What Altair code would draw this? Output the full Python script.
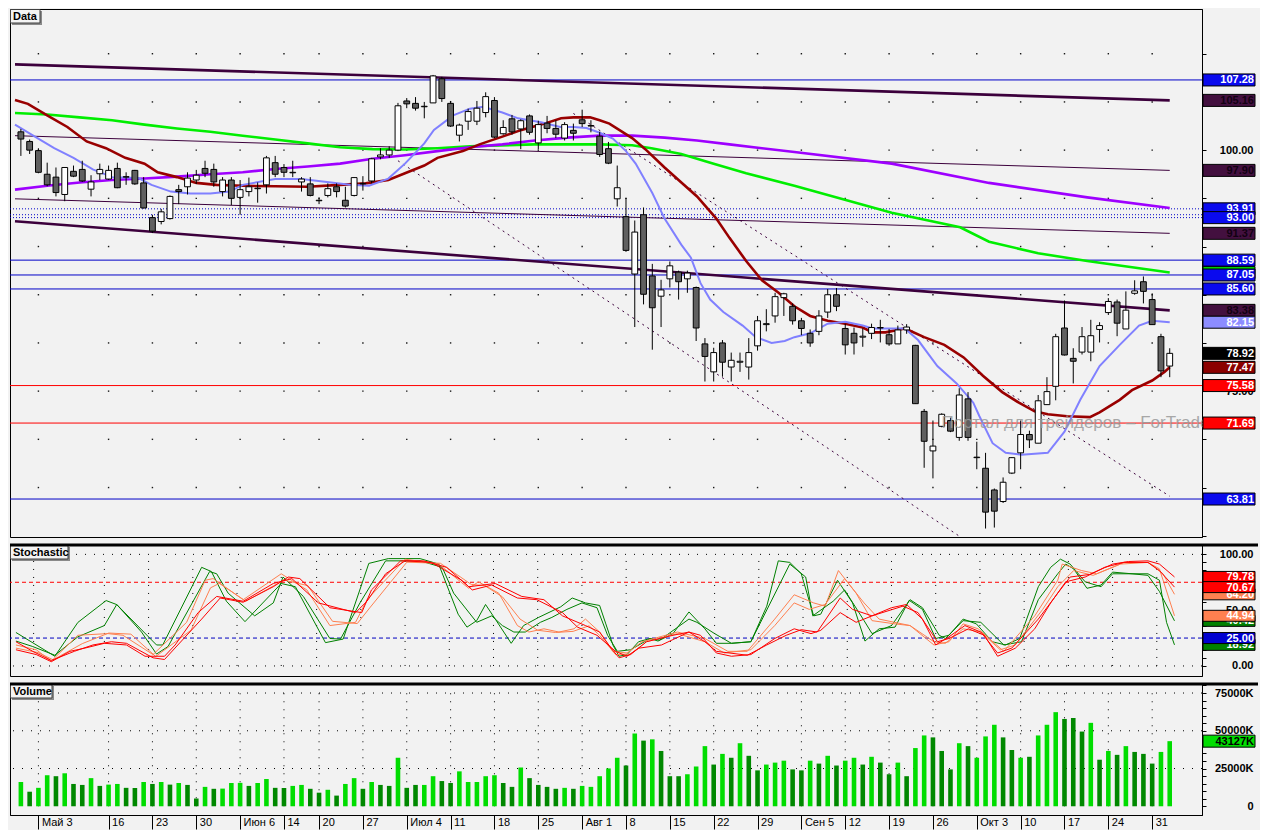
import altair as alt
import pandas as pd

# ---------------- values ----------------
DATE_TICKS = [2, 10, 15, 20, 25, 30, 34, 39, 44, 49, 54, 59, 64, 69, 74, 79, 84, 89, 94, 99,
              104, 109, 114, 119, 124, 129]
DATE_LABELS = ["Май 3", "16", "23", "30", "Июн 6", "14", "20", "27", "Июл 4", "11", "18", "25",
               "Авг 1", "8", "15", "22", "29", "Сен 5", "12", "19", "26", "Окт 3", "10", "17", "24", "31"]

OPEN = [101.9, 100.9, 99.95, 97.5, 97.2, 95.4, 97.8, 98.0, 95.95, 97.55,
        97.0, 98.1, 97.2, 97.9, 96.6, 93.0, 92.6, 92.9, 95.9, 96.2,
        96.9, 98.1, 98.0, 95.7, 96.9, 95.1, 95.7, 96.0, 96.4, 98.7,
        98.2, 97.65, 96.7, 96.5, 94.75, 95.3, 96.2, 94.8, 95.3, 96.5,
        96.8, 99.3, 99.5, 100.0, 105.1, 104.85, 104.5, 104.9, 107.4, 104.85,
        101.55, 103.0, 103.0, 103.9, 105.15, 101.7, 103.25, 102.2, 103.55, 100.75,
        102.8, 102.25, 101.25, 102.05, 103.15, 102.5, 101.45, 100.15, 94.95, 93.1,
        87.15, 93.3, 86.95, 84.85, 86.65, 87.35, 86.65, 85.75, 79.9, 77.0,
        80.0, 77.5, 78.0, 77.5, 79.7, 81.9, 82.8, 84.7, 83.8, 82.3,
        81.0, 81.2, 83.2, 85.0, 81.5, 81.0, 80.6, 81.0, 81.55, 80.85,
        79.9, 81.35, 79.75, 72.9, 68.8, 71.35, 71.95, 70.2, 74.2, 68.1,
        67.0, 64.75, 63.55, 66.5, 68.6, 70.5, 69.6, 73.6, 75.5, 81.55,
        78.4, 79.05, 79.05, 81.4, 83.15, 84.25, 81.45, 85.15, 86.35, 84.5,
        80.65, 77.6]
HIGH = [102.2, 101.1, 100.2, 98.7, 98.2, 98.25, 98.4, 98.9, 97.4, 98.6,
        98.4, 98.7, 97.7, 97.95, 97.2, 93.3, 93.9, 95.3, 96.4, 97.7,
        97.95, 98.9, 98.6, 97.2, 97.2, 96.9, 97.15, 96.65, 99.4, 99.4,
        98.55, 98.9, 97.2, 97.2, 95.1, 96.55, 96.55, 96.2, 97.2, 97.3,
        99.2, 100.2, 100.4, 104.9, 105.4, 105.5, 105.0, 107.8, 107.6, 105.1,
        102.75, 104.3, 105.1, 106.0, 105.5, 103.1, 103.65, 103.2, 103.7, 103.05,
        103.55, 103.1, 102.9, 102.75, 104.2, 103.1, 101.9, 100.85, 98.4, 95.05,
        92.7, 94.05, 88.2, 86.55, 88.45, 87.5, 87.5, 85.85, 80.5, 79.5,
        80.3, 79.0, 79.0, 80.5, 82.8, 83.5, 85.2, 85.2, 84.1, 82.6,
        81.4, 83.4, 85.6, 85.7, 82.0, 81.6, 81.5, 82.0, 82.4, 81.45,
        81.8, 81.95, 79.8, 73.15, 71.95, 72.7, 72.25, 75.3, 74.9, 69.75,
        68.6, 64.9, 66.05, 68.15, 71.95, 70.9, 74.6, 76.45, 80.95, 84.4,
        79.45, 81.65, 82.4, 82.15, 84.65, 84.5, 85.35, 86.5, 86.9, 85.15,
        80.95, 79.45]
LOW = [99.4, 99.6, 97.6, 96.25, 95.2, 94.7, 97.2, 96.7, 95.2, 96.9,
       96.9, 96.05, 96.4, 96.4, 93.95, 91.4, 92.3, 92.8, 94.4, 95.4,
       96.5, 97.2, 96.2, 95.2, 94.3, 93.3, 95.2, 94.55, 95.5, 97.2,
       97.2, 97.2, 95.7, 95.2, 94.4, 95.1, 95.1, 94.05, 95.2, 95.8,
       96.55, 99.05, 99.2, 99.9, 104.35, 104.1, 103.3, 104.9, 105.0, 102.4,
       100.9, 102.1, 102.6, 103.4, 101.25, 101.6, 101.6, 100.1, 101.6, 100.1,
       101.75, 101.25, 101.0, 101.0, 102.4, 101.85, 99.3, 98.55, 94.15, 89.45,
       81.65, 84.0, 79.3, 81.65, 85.75, 84.5, 85.2, 80.2, 76.0, 76.0,
       76.5, 76.0, 77.0, 76.2, 79.2, 81.2, 82.1, 82.8, 81.9, 80.8,
       79.6, 80.8, 82.6, 83.3, 78.8, 78.8, 79.6, 80.4, 80.05, 79.7,
       79.9, 80.95, 73.7, 67.05, 65.95, 71.25, 70.75, 69.85, 69.85, 66.9,
       60.75, 60.85, 63.4, 66.4, 66.9, 69.1, 69.6, 73.6, 74.05, 78.7,
       75.8, 78.8, 78.1, 80.05, 82.9, 80.7, 81.45, 85.0, 84.1, 81.9,
       76.45, 76.45]
CLOSE = [101.15, 100.0, 97.7, 96.4, 95.6, 98.2, 97.3, 96.8, 96.7, 98.0,
         97.9, 96.1, 97.25, 96.5, 94.0, 91.6, 93.6, 95.2, 95.7, 97.1,
         97.4, 97.6, 96.7, 96.9, 95.0, 95.9, 96.2, 96.05, 99.2, 97.5,
         97.7, 97.7, 97.0, 95.3, 94.8, 96.0, 95.7, 94.2, 97.15, 96.55,
         99.1, 99.5, 100.0, 104.6, 104.8, 104.35, 104.55, 107.7, 105.35, 102.5,
         102.6, 104.0, 104.35, 105.55, 101.35, 102.35, 101.9, 103.05, 101.85, 102.65,
         102.25, 101.65, 102.65, 101.75, 102.75, 102.55, 99.55, 98.65, 96.1, 89.6,
         91.5, 85.05, 83.65, 85.5, 88.0, 86.35, 87.25, 81.55, 78.6, 79.0,
         78.0, 78.2, 78.1, 79.0, 82.3, 82.0, 84.8, 85.1, 82.3, 81.5,
         80.0, 82.8, 85.0, 83.8, 79.8, 80.0, 80.7, 81.6, 81.6, 79.9,
         81.35, 81.65, 73.7, 69.8, 69.3, 72.6, 70.85, 74.6, 70.2, 68.15,
         62.45, 62.55, 65.55, 68.1, 70.5, 69.95, 74.0, 74.95, 80.65, 78.75,
         78.1, 80.65, 80.75, 81.8, 84.3, 82.05, 83.4, 85.4, 85.35, 81.9,
         77.1, 78.92]

VOLUME_K = [16070, 9640, 12210, 20560, 19920, 21850, 14780, 14140, 18640, 13490,
            14350, 14780, 12210, 12100, 16070, 14780, 16070, 14350, 15420, 14140,
            5140, 12850, 11570, 11700, 15420, 15500, 13490, 15420, 17990, 12210,
            12100, 13490, 14140, 11570, 9000, 10920, 7070, 14780, 18640, 11570,
            16070, 14140, 13490, 32130, 12210, 14140, 14140, 19920, 16710, 15420,
            23130, 16070, 16070, 19920, 20560, 15420, 12850, 25700, 18640, 14140,
            12850, 11570, 12210, 11570, 13490, 12850, 19920, 25060, 32130, 26990,
            48200, 43480, 44340, 36630, 19920, 19920, 21210, 26350, 39840, 27630,
            34700, 32130, 41770, 33420, 23780, 27630, 28920, 30200, 24420, 23780,
            30200, 28270, 33420, 26990, 30200, 32130, 27630, 32770, 28920, 21210,
            28920, 19920, 38560, 46910, 45620, 36630, 24420, 41770, 39840, 32130,
            46270, 53980, 45620, 37270, 32130, 32770, 46910, 53980, 62330, 57830,
            58480, 49480, 55260, 30840, 36630, 34060, 39840, 35990, 34700, 28270,
            35990, 43127]
# 1 = volume bar drawn in the light ("rising") green, 0 = dark green
VOLUME_RISING = [1, 0, 1, 1, 0, 1, 0, 0, 1, 0,
                 1, 1, 0, 0, 1, 0, 1, 0, 1, 0,
                 0, 1, 0, 1, 1, 1, 0, 1, 1, 0,
                 0, 1, 1, 0, 0, 1, 0, 1, 1, 0,
                 1, 0, 0, 1, 0, 0, 1, 1, 0, 0,
                 1, 1, 1, 1, 1, 0, 0, 1, 0, 0,
                 0, 0, 1, 0, 1, 1, 1, 1, 1, 0,
                 1, 0, 1, 0, 0, 0, 1, 1, 1, 0,
                 1, 0, 1, 0, 0, 1, 1, 1, 0, 0,
                 1, 0, 1, 0, 1, 1, 0, 1, 0, 0,
                 1, 0, 1, 1, 0, 0, 0, 1, 0, 1,
                 1, 1, 0, 0, 1, 0, 1, 1, 1, 0,
                 0, 0, 1, 0, 1, 0, 1, 0, 0, 0,
                 1, 1]

# moving averages: (bar index, price)
MA_FAST = [(-0.67, 102.65), (1.6, 101.4), (3.8, 100.2), (6.0, 99.2), (8.2, 98.0), (10.4, 97.2), (13.4, 97.1),
           (14.9, 96.4), (17.1, 95.7), (19.3, 95.5), (21.6, 95.5), (23.8, 95.7), (25.3, 96.4), (29.0, 97.0),
           (32.0, 97.0), (34.9, 96.7), (37.5, 96.4), (39.7, 96.3), (41.9, 97.05), (43.8, 98.6), (46.0, 100.7),
           (47.1, 102.1), (49.3, 103.6), (51.2, 104.3), (52.7, 104.5), (54.9, 103.9), (56.7, 103.3), (59.3, 102.9),
           (61.5, 102.4), (63.0, 102.4), (64.5, 102.3), (66.0, 101.8), (67.5, 101.2), (69.0, 99.9), (70.1, 98.6),
           (72.0, 95.55), (73.4, 92.9), (75.3, 90.2), (76.4, 88.85), (77.5, 86.2), (78.6, 84.5), (80.1, 83.2),
           (82.3, 81.8), (83.8, 80.6), (85.6, 80.0), (87.1, 80.2), (88.2, 80.6), (90, 81.0), (92, 82.0), (94, 82.2),
           (96, 81.8), (97.1, 81.5), (100.8, 81.5), (102.3, 80.3), (104.5, 77.6), (106.7, 75.8), (108.6, 73.8),
           (109.3, 72.4), (110.8, 69.6), (112.3, 68.6), (114.1, 68.4), (117.1, 68.6), (119.0, 70.8), (120.8, 74.1),
           (123.0, 77.6), (125.3, 79.8), (127.5, 81.8), (129.0, 82.3), (131.0, 82.15)]
MA_MID = [(-0.67, 105.2), (0.8, 104.8), (3.0, 103.6), (5.3, 102.4), (7.5, 100.9), (9.7, 100.2), (11.9, 99.2),
          (14.1, 98.6), (15.6, 97.7), (17.8, 97.2), (20.0, 96.6), (22.3, 96.4), (25.3, 96.3), (29.0, 96.25),
          (32.7, 96.2), (36.4, 96.4), (39.3, 96.55), (41.9, 96.9), (43.8, 97.6), (46.0, 98.4), (47.5, 99.2),
          (50.4, 99.9), (52.3, 100.6), (54.9, 101.4), (57.1, 102.1), (59.7, 102.75), (61.6, 103.3), (63.0, 103.4),
          (64.9, 103.4), (66.0, 103.1), (67.1, 102.75), (69.7, 101.25), (71.2, 100.1), (73.4, 98.2), (75.6, 96.4),
          (77.1, 95.2), (79.3, 92.9), (80.8, 90.9), (82.7, 88.5), (84.5, 86.5), (86.4, 85.2), (88.2, 83.8),
          (90, 82.8), (92, 82.3), (94, 82.0), (96, 81.6), (97.1, 81.1), (98.6, 81.1), (100.8, 81.5), (103.0, 80.6),
          (105.3, 79.8), (107.5, 78.5), (109.7, 76.6), (111.9, 74.9), (113.8, 73.8), (115.6, 72.9), (117.1, 72.6),
          (119.3, 72.4), (121.9, 72.3), (123.0, 72.8), (125.3, 74.1), (126.7, 75.1), (129.0, 76.1), (130.4, 77.0),
          (131.0, 77.47)]
MA_LONG = [(-0.67, 103.85), (3, 103.7), (6.7, 103.4), (10.4, 103.1), (14.1, 102.65), (17.8, 102.25), (21.6, 101.9),
           (25.3, 101.5), (29, 101.1), (32.7, 100.7), (36.4, 100.3), (40.1, 100.1), (43.8, 100.07), (47.5, 100.2),
           (51.2, 100.4), (58.6, 100.6), (66, 100.6), (69.7, 100.5), (71.9, 100.2), (75.3, 99.6), (79, 98.6),
           (82.7, 97.6), (88.2, 96.3), (99.3, 93.5), (107.1, 92.0), (110.4, 90.5), (116, 89.3), (121.6, 88.5),
           (131, 87.3)]
MA_SLOW = [(-0.67, 95.9), (3, 96.3), (6.7, 96.65), (10.4, 96.9), (14.1, 97.05), (17.8, 97.25), (21.6, 97.5),
           (25.3, 97.7), (29, 98.05), (32.7, 98.3), (36.4, 98.6), (40.1, 99.1), (43.8, 99.47), (47.5, 99.9),
           (51.2, 100.3), (54.9, 100.6), (58.6, 101.0), (62.3, 101.3), (66, 101.5), (69.7, 101.5), (73.4, 101.3),
           (77.1, 101.0), (80.8, 100.6), (84.5, 100.2), (88.2, 99.8), (99.3, 98.6), (110.4, 96.6), (121.6, 95.1),
           (131, 94.0)]

# trend lines: (start bar, start price, end bar, end price)
TREND_THICK = [(-0.67, 108.9, 131, 105.16), (-0.67, 92.63, 131, 83.38)]
TREND_THIN = [(-0.67, 101.5, 131, 97.90), (-0.67, 94.95, 131, 91.37)]
TREND_DOTTED = [(43, 98.9, 107.1, 59.9), (63, 103.8, 131, 64.1)]

LEVELS_BLUE = [107.28, 88.59, 87.05, 85.60, 63.81]
LEVELS_BLUE_DOTTED = [93.91, 93.30, 93.00]
LEVELS_RED = [75.58, 71.69]

PRICE_TAGS_BACK = [93.91, 87.30]
PRICE_TAGS_BACK_TEXT = ["93.91", ""]
PRICE_TAGS = [107.28, 105.16, 97.90, 93.00, 91.37, 88.59, 87.05, 85.60, 83.38, 82.15, 78.92, 77.47, 75.58,
              71.69, 63.81]
PRICE_TAGS_TEXT = ["107.28", "105.16", "97.90", "93.00", "91.37", "88.59", "87.05", "85.60", "83.38", "82.15",
                   "78.92", "77.47", "75.58", "71.69", "63.81"]

# stochastic lines: (bar index, value)
ST_G1 = [(0, 30), (4.4, 8.7), (7, 39), (10.2, 58.6), (11.4, 55), (15.9, 18.8), (16.6, 18.8), (21, 88.4),
         (22.1, 84.6), (23.8, 58), (25.9, 39.7), (30, 73.9), (31.6, 71), (35, 20.9), (37, 24.1), (39.9, 91.9),
         (42.1, 96.2), (45.7, 96.2), (47.8, 91.3), (50, 46.4), (51, 34.8), (52.1, 40.6), (53.1, 55.1), (54.2, 42),
         (56, 20.3), (57.4, 36.2), (59.1, 43.5), (61.6, 53), (62.9, 60.9), (64.4, 56.5), (66, 54.2), (66.7, 37.7),
         (67.5, 18.8), (68.2, 8.7), (69.1, 10.2), (70.4, 21.7), (71.7, 24.6), (72.6, 22.3), (74.3, 29),
         (76.1, 48.4), (77.9, 33.3), (79.2, 20.3), (80.9, 20.3), (83.1, 21.7), (84.9, 53.6), (86.2, 94.2),
         (87.5, 92.8), (88.8, 82.6), (90.2, 44.9), (91, 46.4), (92.9, 76.8), (94.6, 56.5), (96, 22.3),
         (97.6, 33.3), (99.4, 34.8), (101, 58.8), (102.5, 50.7), (104, 24.6), (105.5, 27.5), (107.1, 42),
         (108.6, 37.7), (110.4, 21.7), (111.9, 18.8), (113.5, 24.6), (115.6, 71), (117, 88.4), (118.1, 95.7),
         (119.2, 91.3), (120.9, 75.4), (122.7, 71), (124, 82.6), (128, 82.6), (129.3, 76.8), (130.1, 39.1),
         (131, 18.92)]
ST_G2 = [(0, 22.3), (1.9, 17.4), (4.4, 9.6), (7, 26.1), (10, 36.2), (11.4, 55.1), (14.2, 30.4), (15.9, 10.7),
         (17.2, 17.4), (21.9, 84.6), (22.7, 82.6), (24, 65.2), (27, 44.9), (29.1, 56.5), (30.2, 79.7), (32.5, 62.3),
         (35.5, 24.6), (36.7, 24.1), (38.9, 56.5), (41.8, 94.2), (45.7, 94.2), (48.2, 88.4), (49.5, 65.2),
         (52.1, 39.1), (53.8, 44.9), (55, 36.2), (56.3, 30.4), (57.6, 30.4), (59.3, 39.1), (60.6, 43.5),
         (62.3, 50.7), (64, 56.5), (65.7, 52.2), (66.9, 27.5), (68, 13.1), (69.5, 14.5), (71.7, 24.6),
         (72.8, 23.2), (76.1, 42), (77, 39.1), (79, 29), (80.9, 20.3), (83.1, 21.7), (87.5, 91.3), (89.3, 79.7),
         (90.1, 44.9), (92.4, 58), (93.7, 68.1), (95.9, 40.6), (96.8, 29), (99, 36.2), (101.1, 59.4),
         (102.5, 52.2), (104.4, 27.5), (105.1, 24.6), (107.1, 40.6), (109.1, 39.1), (111.7, 18.8), (113.7, 21.7),
         (115.6, 59.4), (117.8, 82.6), (118.7, 91.3), (119.6, 87), (121.1, 69.6), (122.7, 72.5), (124, 84.1),
         (126.2, 82.6), (128, 81.2), (129.3, 66.7), (131, 40.42)]
ST_R1 = [(0, 21.7), (1.9, 13.1), (4, 4.9), (6.6, 13.1), (8.7, 18.8), (10.8, 21.7), (12.5, 20.3), (15.5, 7.3),
         (16.8, 5.8), (21, 42), (23.1, 60.9), (25.7, 57.1), (29.1, 71), (30.8, 79.7), (32.1, 78.3), (35.5, 52.2),
         (39.1, 47.8), (40.2, 68.1), (43.5, 94.2), (46.1, 94.2), (48.7, 88.4), (51.2, 71), (54.2, 73.9),
         (57.2, 62.3), (59.7, 59.4), (61.8, 44.9), (64.4, 36.2), (66, 30.4), (67.3, 15.9), (68.2, 7.3),
         (69.5, 10.2), (71.3, 21.7), (74.3, 27.5), (76.1, 30.4), (77.4, 27.5), (79.2, 11.6), (80.9, 8.7),
         (83.1, 10.2), (85.8, 24.6), (88, 33.3), (89.9, 29), (91, 31.9), (93.2, 47.8), (95, 39.1), (96.8, 44.9),
         (99, 52.2), (100.7, 55.1), (102.5, 42), (104, 18.8), (105.5, 26.1), (107.3, 36.2), (109.1, 30.4),
         (111, 11.6), (112.6, 16), (115.6, 42), (117.8, 65.2), (119.2, 79.7), (121.4, 82), (124, 91.3),
         (125.8, 93.6), (128, 94.2), (129.3, 91.3), (131, 79.78)]
ST_R2 = [(0, 14.5), (2.3, 10.2), (4, 3.8), (6.1, 13.1), (7.8, 16), (10, 20.3), (12.5, 18.8), (14.6, 8.7),
         (16.8, 8.7), (18, 18.8), (20.6, 47.8), (22.7, 62.3), (25.7, 58), (29.1, 73.9), (31.2, 78.3), (34.2, 56.5),
         (38.4, 47.8), (39.7, 58), (41.8, 82.6), (44, 94.2), (47, 92.8), (50.4, 76.8), (51.6, 68.1), (53.8, 72.5),
         (56.7, 60.9), (58.9, 59.4), (61.8, 47.8), (63.5, 34.8), (65.7, 27.5), (67.8, 13.1), (69.1, 8.7),
         (70.4, 15.9), (73, 18.8), (76.1, 30.4), (77.9, 21.7), (79.2, 13.1), (82.7, 9.6), (84.9, 18.8),
         (87.1, 27.5), (88.8, 32.5), (90.6, 30.4), (93.2, 60.9), (94.6, 50.7), (96.8, 44.9), (100.3, 53.6),
         (102, 47.8), (104.2, 21.7), (105.5, 24.6), (107.7, 33.3), (109.5, 27.5), (111, 8.7), (113, 15.9),
         (115.2, 33.3), (117, 56.5), (118.7, 75.4), (120.9, 79.7), (123.1, 88.4), (125.3, 92.8), (128, 92.8),
         (129.3, 85.5), (131, 70.67)]
ST_O1 = [(0, 18.8), (2.3, 14.5), (4, 4.4), (7, 27.5), (10.4, 29), (12.1, 27.5), (15.5, 10.2), (19.3, 39.1),
         (21.4, 76.8), (22.3, 78.3), (25.7, 59.4), (30, 82.6), (32.9, 68.1), (35.5, 36.2), (38.4, 39.1),
         (39.7, 59.4), (44, 95.7), (47.8, 91.3), (51.2, 69.6), (52.3, 75.4), (54.6, 65.2), (56.7, 36.2), (58, 30.4),
         (59.7, 33.3), (61.4, 30.4), (63.1, 33.3), (64.4, 42), (66, 30.4), (67.5, 13.1), (69.1, 11.6), (70.8, 21.7),
         (74.8, 30.4), (77.9, 24.6), (80.5, 13.1), (82.7, 13.1), (85.8, 42), (88, 63.8), (90.2, 56.5), (91.5, 53.6),
         (93, 85.5), (95, 65.2), (96.8, 40.6), (99.4, 37.7), (101.1, 36.2), (103.8, 18.8), (105.5, 21.7),
         (107.1, 37.7), (108.8, 33.3), (111.7, 13.1), (115.2, 44.9), (117.8, 76.8), (118.3, 91.3), (120.5, 85.5),
         (122.2, 82.6), (125.3, 92.8), (128, 92.8), (129.7, 82.6), (131, 64.2)]
ST_O2 = [(0, 16), (2.5, 12), (4.2, 5.5), (7.5, 20), (10.5, 29.5), (13, 28.5), (15.8, 8.5), (19.8, 32), (22, 70),
         (23, 74), (26, 58), (30.3, 77), (33, 72), (35.8, 40), (38.6, 38), (40, 52), (44.2, 93), (48, 92),
         (51.5, 73), (53, 72), (55, 62), (57, 42), (59, 32), (61, 30), (63, 31), (64.8, 36), (66, 27.5),
         (67.8, 10.2), (69.5, 10.7), (71.3, 21.7), (74.8, 29), (77.9, 21.7), (80.1, 11.6), (83.1, 14.5),
         (85.8, 36.2), (88, 56.5), (89.7, 50.7), (91.5, 55.1), (93.7, 78.3), (95.9, 56.5), (97.6, 42),
         (101.1, 36.2), (103.8, 21.7), (105.1, 20.3), (107.1, 33.3), (109.1, 30.4), (111.3, 14.5), (113, 18.8),
         (116.1, 50.7), (117.8, 71), (119.6, 85.5), (121.8, 81.2), (124.9, 91.3), (128, 92.8), (129.3, 87),
         (131, 44.94)]
ST_LEVEL_HIGH = 75
ST_LEVEL_LOW = 25

ST_TAGS_BACK = [64.20, 40.42, 18.92]
ST_TAGS = [79.78, 70.67, 44.94, 25.00]

VOL_TAG = 43127

# ---------------- layout & style ----------------
FONT = "Liberation Sans"
BG = "#F2F2F2"
W = 1192
H_MAIN, H_ST, H_VOL = 528, 131, 131
X_MIN, X_MAX = -0.67, 134.11
TAG_W = 52
TAG_X = W + 1 + TAG_W / 2
TEXT_X = W + TAG_W

BLUE = "#0A0AEE"
PURPLE_TAG = "#43103F"
RED = "#FF0000"
GREEN_ST = "#008000"
CORAL = "#FF8050"

XS = alt.Scale(domain=[X_MIN, X_MAX], nice=False, zero=False)
YS_MAIN = alt.Scale(domain=[59.87, 114.64], nice=False, zero=False)
YS_ST = alt.Scale(domain=[-9.0, 108.4], nice=False, zero=False)
YS_VOL = alt.Scale(domain=[-5780, 80980], nice=False, zero=False)


def right_axis(values, expr):
    return alt.Axis(orient="right", values=values, labelExpr=expr, tickSize=4, tickColor="black",
                    domainColor="black", labelColor="black", labelFont=FONT, labelFontSize=11,
                    labelFontWeight="bold", labelAlign="right", labelPadding=TAG_W - 5, labelBaseline="middle",
                    title=None, grid=False, labelOverlap=False, labelFlush=False, zindex=0)


AX_MAIN = right_axis(list(range(60, 115, 5)),
                     "datum.value == 100 || datum.value == 75 ? format(datum.value, '.2f') : ''")
AX_ST = right_axis([k * 100 / 14 for k in range(15)],
                   "abs(datum.value - 50) < 0.01 || abs(datum.value) < 0.01 || abs(datum.value - 100) < 0.01"
                   " ? format(datum.value, '.2f') : ''")
AX_VOL = right_axis(list(range(0, 80001, 5000)),
                    "datum.value == 0 ? '0' : (datum.value % 25000 == 0 ? datum.value + 'K' : '')")

labels_js = "[" + ",".join("'" + s + "'" for s in DATE_LABELS) + "]"
ticks_js = "[" + ",".join(str(t) for t in DATE_TICKS) + "]"
AX_X = alt.Axis(values=DATE_TICKS, labelExpr=labels_js + "[indexof(" + ticks_js + ", datum.value)]",
                tickSize=14, tickColor="black", domainColor="black", labelColor="black", labelFont=FONT,
                labelFontSize=11, labelAlign="left", labelBaseline="top", labelPadding=-13, labelOffset=3,
                title=None, grid=False, labelOverlap=False, labelFlush=False)


def xenc(field, ax=None):
    return alt.X(field, scale=XS, axis=ax)


def series_line(pairs, ys, yax, color, width, dash=None):
    kw = dict(color=color, strokeWidth=width)
    if dash is not None:
        kw["strokeDash"] = dash
    df = pd.DataFrame(pairs, columns=["i", "v"])
    return alt.Chart(df).mark_line(**kw).encode(x=xenc("i:Q"), y=alt.Y("v:Q", scale=ys, axis=yax), order="i:Q")


def segments(rows, color, width, dash=None):
    kw = dict(color=color, strokeWidth=width)
    if dash is not None:
        kw["strokeDash"] = dash
    df = pd.DataFrame(rows, columns=["i0", "v0", "i1", "v1"])
    return alt.Chart(df).mark_rule(**kw).encode(
        x=xenc("i0:Q"), x2="i1:Q", y=alt.Y("v0:Q", scale=YS_MAIN, axis=AX_MAIN), y2="v1:Q")


def hlevels(vals, ys, yax, color, dash=None, width=1):
    kw = dict(color=color, strokeWidth=width)
    if dash is not None:
        kw["strokeDash"] = dash
    return alt.Chart(pd.DataFrame({"v": vals})).mark_rule(**kw).encode(y=alt.Y("v:Q", scale=ys, axis=yax))


def tags(vals, texts, fills, inks, ys, yax, h):
    df = pd.DataFrame({"v": vals, "t": texts, "f": fills, "k": inks})
    r = h / TAG_W
    path = f"M-1,-{r:.4f}H1V{r:.4f}H-1Z"
    box = alt.Chart(df).mark_point(shape=path, size=TAG_W ** 2, filled=True, opacity=1, strokeWidth=1).encode(
        x=alt.value(TAG_X), y=alt.Y("v:Q", scale=ys, axis=yax),
        fill=alt.Fill("f:N", scale=None), stroke=alt.value("#000000"))
    txt = alt.Chart(df).mark_text(align="right", baseline="middle", font=FONT, fontSize=11,
                                  fontWeight="bold", dy=0.5).encode(
        x=alt.value(TEXT_X), y=alt.Y("v:Q", scale=ys, axis=yax), text="t:N",
        color=alt.Color("k:N", scale=None))
    return [box, txt]


def title_box(text, w):
    d = pd.DataFrame({"t": [text]})
    shadow = alt.Chart(d).mark_rect(color="#8A8A8A").encode(
        x=alt.value(2), x2=alt.value(w + 2), y=alt.value(2), y2=alt.value(16))
    box = alt.Chart(d).mark_rect(fill="#F4F4F4", stroke="#404040", strokeWidth=1).encode(
        x=alt.value(0.5), x2=alt.value(w), y=alt.value(0.5), y2=alt.value(14))
    txt = alt.Chart(d).mark_text(align="left", baseline="middle", font=FONT, fontSize=11,
                                 fontWeight="bold", color="black").encode(
        x=alt.value(3), y=alt.value(7.5), text="t:N")
    return [shadow, box, txt]


def separator():
    return alt.Chart(pd.DataFrame({"a": [0]})).mark_rule(color="black", strokeWidth=3).encode(
        x=alt.value(0), x2=alt.value(W + TAG_W + 4), y=alt.value(0))


# ---------------- main (price) panel ----------------
candles = pd.DataFrame({"i": list(range(len(OPEN))), "o": OPEN, "h": HIGH, "l": LOW, "c": CLOSE})
candles["dir"] = ["up" if c >= o else "down" for o, c in zip(OPEN, CLOSE)]

grid_pts = pd.DataFrame([(t, p) for t in DATE_TICKS for p in AX_MAIN.values if 62 < p < 112],
                        columns=["i", "v"])
grid_main = alt.Chart(grid_pts).mark_square(size=2, color="black", opacity=0.9).encode(
    x=xenc("i:Q"), y=alt.Y("v:Q", scale=YS_MAIN, axis=AX_MAIN))

watermark = alt.Chart(pd.DataFrame({"t": ["Портал для трейдеров – ForTrader.ru"]})).mark_text(
    align="left", baseline="middle", font=FONT, fontSize=17, color="#9A9A9A", opacity=0.85).encode(
    x=alt.value(W * 948 / 1213), y=alt.value(H_MAIN * 427 / 545), text="t:N")

wicks = alt.Chart(candles).mark_rule(color="black", strokeWidth=1).encode(
    x=xenc("i:Q"), y=alt.Y("l:Q", scale=YS_MAIN, axis=AX_MAIN), y2="h:Q")
bodies = alt.Chart(candles).mark_bar(width=5.8, stroke="black", strokeWidth=1).encode(
    x=xenc("i:Q"), y=alt.Y("o:Q", scale=YS_MAIN, axis=AX_MAIN), y2="c:Q",
    fill=alt.Fill("dir:N", scale=alt.Scale(domain=["up", "down"], range=["#FFFFFF", "#606060"]), legend=None))

main_layers = [
    grid_main,
    hlevels(LEVELS_BLUE, YS_MAIN, AX_MAIN, "#0000C8"),
    hlevels(LEVELS_BLUE_DOTTED, YS_MAIN, AX_MAIN, "#0000C8", dash=[1, 2]),
    hlevels(LEVELS_RED, YS_MAIN, AX_MAIN, RED),
    segments(TREND_THIN, "#3C003C", 1),
    segments(TREND_THICK, "#3C003C", 2.6),
    segments(TREND_DOTTED, "#3C003C", 1, dash=[2, 4]),
    series_line(MA_LONG, YS_MAIN, AX_MAIN, "#00EE00", 2.6),
    series_line(MA_SLOW, YS_MAIN, AX_MAIN, "#9E00FF", 2.6),
    series_line(MA_MID, YS_MAIN, AX_MAIN, "#990000", 2.6),
    series_line(MA_FAST, YS_MAIN, AX_MAIN, "#8080FF", 2),
    wicks,
    bodies,
    watermark,
]
main_layers += tags(PRICE_TAGS_BACK, PRICE_TAGS_BACK_TEXT, [BLUE, "#00E000"], ["white", "white"],
                    YS_MAIN, AX_MAIN, 12)
main_layers += tags(PRICE_TAGS, PRICE_TAGS_TEXT,
                    [BLUE, PURPLE_TAG, PURPLE_TAG, BLUE, PURPLE_TAG, BLUE, BLUE, BLUE, PURPLE_TAG, "#8C8CFF",
                     "#000000", "#8B0000", RED, RED, BLUE],
                    ["white", "#120012", "#120012", "white", "#120012", "white", "white", "white", "#120012",
                     "white", "white", "white", "white", "white", "white"],
                    YS_MAIN, AX_MAIN, 12)
main_layers += title_box("Data", 30)
main = alt.layer(*main_layers).properties(width=W, height=H_MAIN)

# ---------------- stochastic panel ----------------
st_vgrid = alt.Chart(pd.DataFrame({"i": DATE_TICKS, "lo": [0] * len(DATE_TICKS),
                                   "hi": [100] * len(DATE_TICKS)})).mark_rule(
    color="black", strokeDash=[1, 7], strokeWidth=1).encode(
    x=xenc("i:Q"), y=alt.Y("lo:Q", scale=YS_ST, axis=AX_ST), y2="hi:Q")

st_layers = [
    st_vgrid,
    hlevels([0, 100], YS_ST, AX_ST, "black", dash=[1, 8]),
    hlevels([ST_LEVEL_HIGH], YS_ST, AX_ST, RED, dash=[4, 3]),
    hlevels([ST_LEVEL_LOW], YS_ST, AX_ST, "#0000C0", dash=[4, 3]),
    series_line(ST_G2, YS_ST, AX_ST, GREEN_ST, 1),
    series_line(ST_G1, YS_ST, AX_ST, GREEN_ST, 1),
    series_line(ST_O2, YS_ST, AX_ST, CORAL, 1),
    series_line(ST_O1, YS_ST, AX_ST, CORAL, 1),
    series_line(ST_R2, YS_ST, AX_ST, RED, 1),
    series_line(ST_R1, YS_ST, AX_ST, RED, 1),
]
st_layers += tags(ST_TAGS_BACK, [f"{v:.2f}" for v in ST_TAGS_BACK], [CORAL, GREEN_ST, GREEN_ST],
                  ["white", "white", "white"], YS_ST, AX_ST, 11)
st_layers += tags(ST_TAGS, [f"{v:.2f}" for v in ST_TAGS], [RED, RED, CORAL, "#0000D0"],
                  ["white", "white", "white", "white"], YS_ST, AX_ST, 11)
st_layers += title_box("Stochastic", 58)
st_layers.append(separator())
stoch = alt.layer(*st_layers).properties(width=W, height=H_ST)

# ---------------- volume panel ----------------
vol = pd.DataFrame({"i": list(range(len(VOLUME_K))), "v": VOLUME_K,
                    "dir": ["up" if r else "down" for r in VOLUME_RISING]})
vol_vgrid = alt.Chart(pd.DataFrame({"i": DATE_TICKS, "lo": [0] * len(DATE_TICKS),
                                    "hi": [75000] * len(DATE_TICKS)})).mark_rule(
    color="black", strokeDash=[1, 7], strokeWidth=1).encode(
    x=xenc("i:Q", AX_X), y=alt.Y("lo:Q", scale=YS_VOL, axis=AX_VOL), y2="hi:Q")
vol_bars = alt.Chart(vol).mark_bar(width=4.6).encode(
    x=xenc("i:Q", AX_X), y=alt.Y("v:Q", scale=YS_VOL, axis=AX_VOL),
    color=alt.Color("dir:N", scale=alt.Scale(domain=["up", "down"], range=["#00DD00", "#008800"]),
                    legend=None))
vol_layers = [
    vol_vgrid,
    hlevels([25000, 50000, 75000], YS_VOL, AX_VOL, "black", dash=[1, 8]),
    vol_bars,
]
vol_layers += tags([VOL_TAG], [f"{VOL_TAG}K"], ["#00DD00"], ["#000000"], YS_VOL, AX_VOL, 12)
vol_layers += title_box("Volume", 42)
vol_layers.append(separator())
volume = alt.layer(*vol_layers).properties(width=W, height=H_VOL)

chart = alt.vconcat(main, stoch, volume, spacing=1).properties(
    background=BG, padding={"left": 0, "top": 0, "right": 0, "bottom": 0}
).configure_view(stroke="black", strokeWidth=1, fill=BG)

chart.save("out.html", embed_options={"renderer": "svg", "actions": False})
